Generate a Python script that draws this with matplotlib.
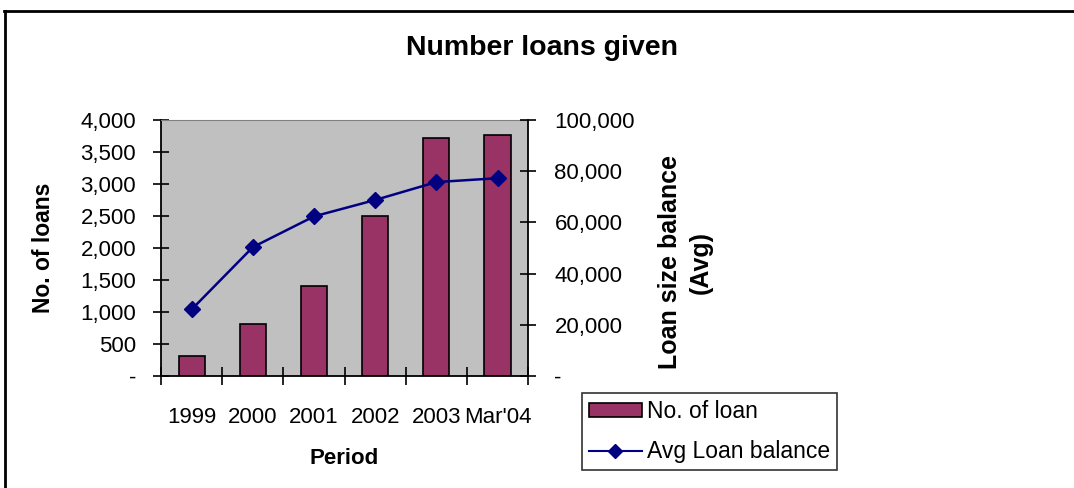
import matplotlib.pyplot as plt
from matplotlib.lines import Line2D
from matplotlib.ticker import FuncFormatter
import numpy as np

plt.rcParams["font.family"] = ["Liberation Sans", "DejaVu Sans"]

periods = ["1999", "2000", "2001", "2002", "2003", "Mar'04"]
num_loans = [312, 819, 1406, 2495, 3714, 3755]
avg_balance = [26000, 50300, 62300, 68700, 75700, 77200]

BAR_COLOR = "#993366"
LINE_COLOR = "#000080"
FS = 16
W, H = 1074, 488

fig = plt.figure(figsize=(W / 100, H / 100), dpi=100)
ax = fig.add_axes([0.15, 0.2295, 0.3417, 0.525])
ax.set_facecolor("#C0C0C0")

x = np.arange(len(periods))
ax.bar(x, num_loans, width=0.43, color=BAR_COLOR, edgecolor="black", linewidth=1.2, zorder=2)
ax.set_xlim(-0.5, len(periods) - 0.5)
ax.set_ylim(0, 4000)
ax.set_yticks(np.arange(0, 4001, 500))


def acct(v, _):
    return "-" if v == 0 else f"{int(v):,}"


ax.yaxis.set_major_formatter(FuncFormatter(acct))
ax.set_xticks(x)
ax.set_xticklabels(periods)
ax.set_xticks(np.arange(-0.5, len(periods)), minor=True)
ax.tick_params(axis="x", which="major", length=0, pad=22, labelsize=FS)
ax.tick_params(axis="x", which="minor", direction="inout", length=13, width=1.2)
ax.tick_params(axis="y", direction="inout", length=12, width=1.2, labelsize=FS, pad=12)
for s in ["left", "bottom"]:
    ax.spines[s].set_linewidth(1.3)
ax.spines["top"].set_color("#808080")
ax.spines["right"].set_visible(False)

ax.set_xlabel("Period", fontsize=FS, fontweight="bold", labelpad=15)

ax2 = ax.twinx()
ax2.plot(x, avg_balance, color=LINE_COLOR, linewidth=1.8, marker="D", markersize=8, zorder=3)
ax2.set_ylim(0, 100000)
ax2.set_yticks(np.arange(0, 100001, 20000))
ax2.yaxis.set_major_formatter(FuncFormatter(acct))
ax2.tick_params(axis="y", direction="inout", length=12, width=1.2, labelsize=FS, pad=13)
ax2.spines["right"].set_linewidth(1.3)
for s in ["left", "bottom", "top"]:
    ax2.spines[s].set_visible(False)

# axis titles placed like the spreadsheet chart
fig.text(44 / W, 1 - 248 / H, "No. of loans", rotation=90, ha="center", va="center",
         fontsize=16.5, fontweight="bold")
fig.text(685 / W, 1 - 262 / H, "Loan size balance\n(Avg)", rotation=90, ha="center", va="center",
         multialignment="center", linespacing=1.35, fontsize=18, fontweight="bold")

fig.text(0.505, 0.902, "Number loans given", ha="center", va="center", fontsize=20.5, fontweight="bold")

handles = [
    plt.Rectangle((0, 0), 1, 1, facecolor=BAR_COLOR, edgecolor="black", linewidth=1.2),
    Line2D([0], [0], color=LINE_COLOR, linewidth=1.5, marker="D", markersize=7),
]
leg = fig.legend(handles, ["No. of loan", "Avg Loan balance"], loc="upper left",
                 bbox_to_anchor=(582 / W, 1 - 393 / H), fontsize=16.5, frameon=True, fancybox=False,
                 borderpad=0.3, handlelength=2.3, handleheight=0.55, handletextpad=0.22,
                 labelspacing=0.75, borderaxespad=0)
leg.get_frame().set_edgecolor("black")
leg.get_frame().set_linewidth(1.2)

# outer chart border (top and left only visible in the crop)
fig.add_artist(Line2D([4 / W, 1.0], [1 - 11 / H, 1 - 11 / H], color="black", linewidth=2))
fig.add_artist(Line2D([5 / W, 5 / W], [0, 1 - 11 / H], color="black", linewidth=2))

fig.savefig("out.png", dpi=100)
